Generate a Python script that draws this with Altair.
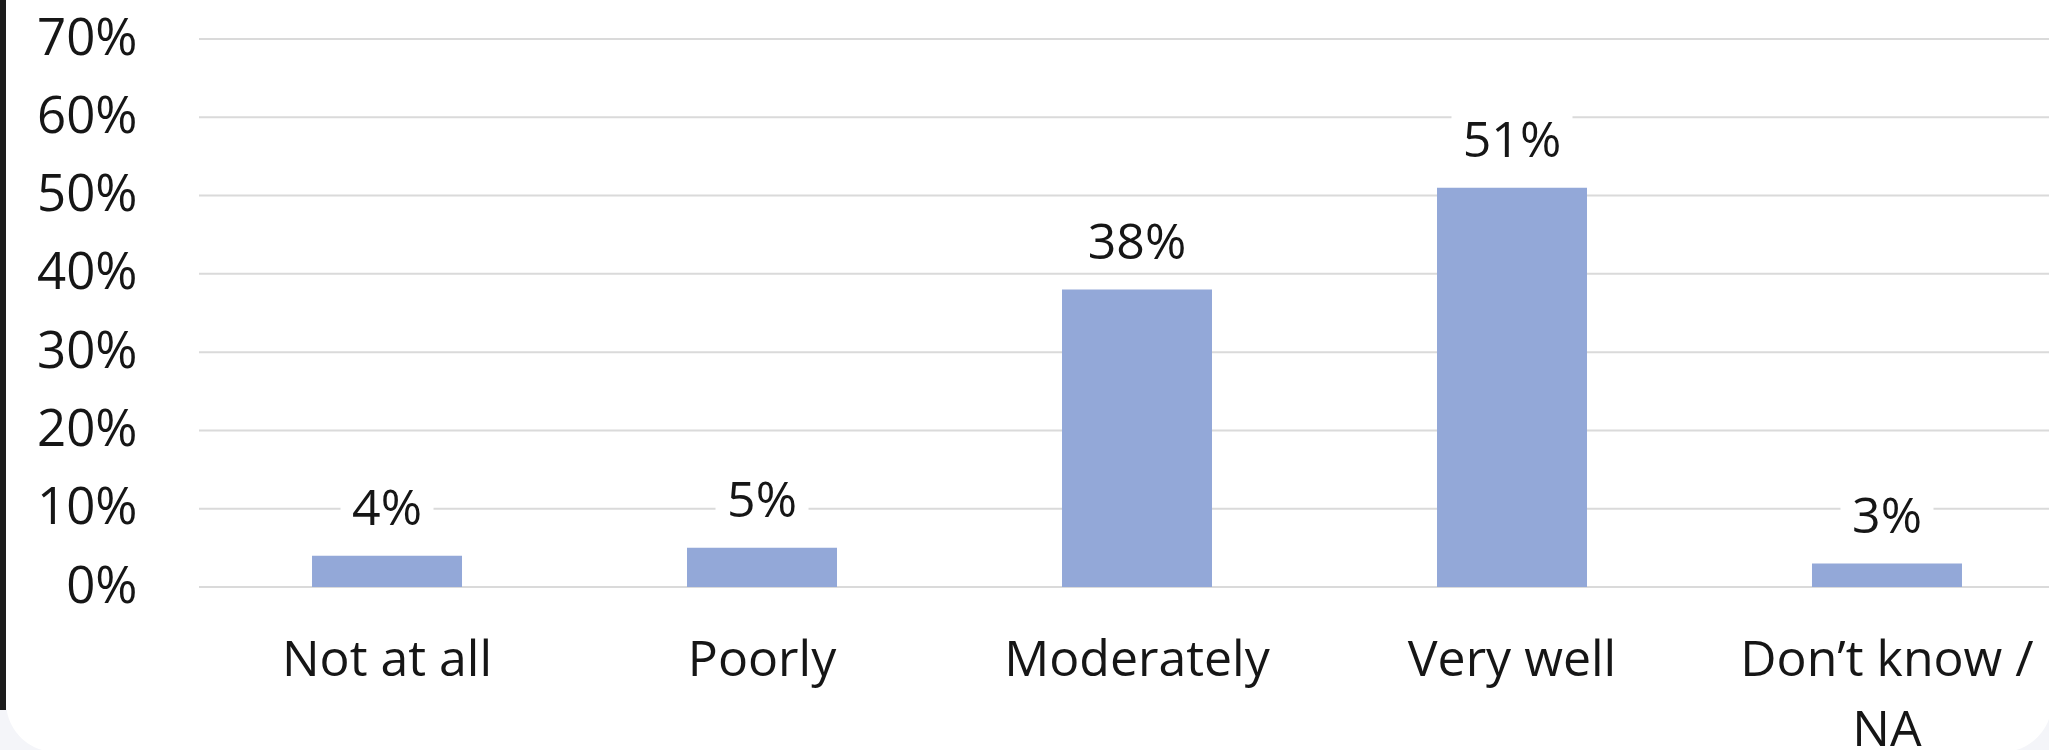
import altair as alt
import pandas as pd

# Survey responses: how well the need was met
categories = ["Not at all", "Poorly", "Moderately", "Very well", "Don\u2019t know / NA"]
shares = [4, 5, 38, 51, 3]
y_ticks = [0, 10, 20, 30, 40, 50, 60, 70]

df = pd.DataFrame({"category": categories, "share": shares})
df["label"] = df["share"].astype(str) + "%"
grid_df = pd.DataFrame({"tick": y_ticks})

FONT = "Open Sans"
TEXT = "#161616"
BAR = "#93a8d8"
GRID = "#dadada"
PAGE = "#f4f5f9"

W, H = 1850, 548

x_scale = alt.Scale(paddingInner=0.6, paddingOuter=0.2667, align=0.565)
y_scale = alt.Scale(domain=[0, 70], nice=False)

x_axis = alt.Axis(
    title=None,
    labelAngle=0,
    labelFontSize=50,
    labelFont=FONT,
    labelColor=TEXT,
    labelPadding=48,
    labelLineHeight=70,
    labelLimit=0,
    ticks=False,
    domain=False,
    zindex=1,
    labelExpr="datum.label == 'Don\u2019t know / NA' ? ['Don\u2019t know /', 'NA'] : datum.label",
)

y_axis = alt.Axis(
    title=None,
    values=y_ticks,
    labelExpr="datum.value + '%'",
    labelFontSize=51,
    labelFont=FONT,
    labelColor=TEXT,
    labelPadding=62,
    ticks=False,
    domain=False,
    grid=False,
    zindex=1,
)

# White card with rounded lower corners on a pale page
card = alt.Chart(pd.DataFrame({"k": [0]})).mark_rect(
    color="white", cornerRadius=50
).encode(
    x=alt.value(-193), x2=alt.value(W + 3), y=alt.value(-120), y2=alt.value(H + 165)
)

# Dark edge along the left side of the card
edge = alt.Chart(pd.DataFrame({"k": [0]})).mark_rule(
    color="#1c1c1c", strokeWidth=6
).encode(x=alt.value(-196), y=alt.value(-39), y2=alt.value(H + 123))

# Horizontal gridlines at every tick, drawn as marks so the card stays behind them
gridlines = alt.Chart(grid_df).mark_rule(color=GRID, strokeWidth=2).encode(
    y=alt.Y("tick:Q", scale=y_scale, axis=y_axis),
    x=alt.value(0),
    x2=alt.value(W),
)

base = alt.Chart(df)

bars = base.mark_bar(color=BAR).encode(
    x=alt.X("category:N", sort=categories, scale=x_scale, axis=x_axis),
    y=alt.Y("share:Q", scale=y_scale, axis=y_axis),
)

# White box behind each value label, breaking the gridline it sits on
label_box = base.transform_calculate(
    boxw="length(datum.label) * 28 + 37"
).mark_bar(color="white", yOffset=-78, y2Offset=-18).encode(
    x=alt.X("category:N", sort=categories),
    y=alt.Y("share:Q", scale=y_scale),
    y2="share:Q",
    size=alt.Size("boxw:Q", scale=None, legend=None),
)

labels = base.mark_text(
    baseline="alphabetic", dy=-31, fontSize=50, font=FONT, color=TEXT
).encode(
    x=alt.X("category:N", sort=categories),
    y=alt.Y("share:Q", scale=y_scale),
    text="label:N",
)

chart = (
    alt.layer(card, edge, gridlines, bars, label_box, labels)
    .properties(
        width=W,
        height=H,
        padding={"left": 199, "top": 39, "right": 0, "bottom": 163},
        autosize=alt.AutoSizeParams(type="none"),
        background=PAGE,
    )
    .configure_view(stroke=None)
)

chart.save("out.html", embed_options={"renderer": "svg", "actions": False})
